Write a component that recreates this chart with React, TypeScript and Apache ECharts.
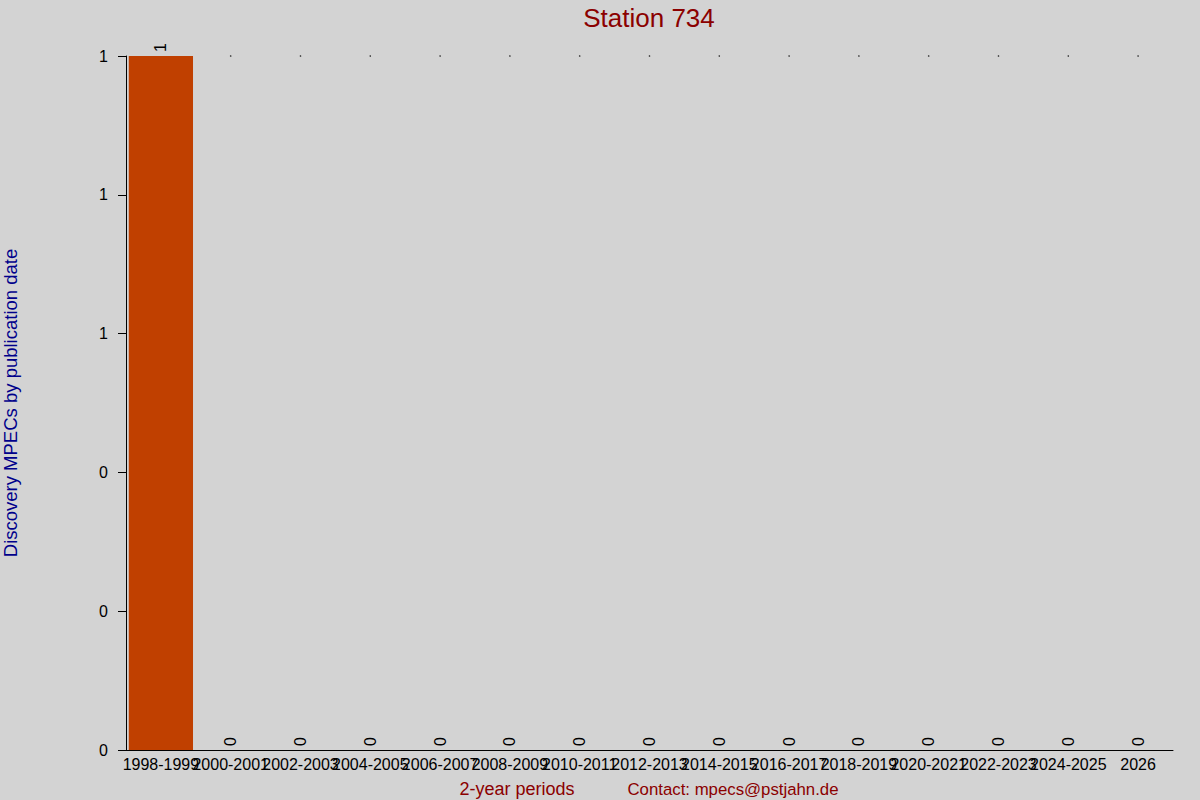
import React, { useEffect, useRef } from "react";
import * as echarts from "echarts";

const categories = [
  "1998-1999", "2000-2001", "2002-2003", "2004-2005", "2006-2007",
  "2008-2009", "2010-2011", "2012-2013", "2014-2015", "2016-2017",
  "2018-2019", "2020-2021", "2022-2023", "2024-2025", "2026",
];
const counts = [1, 0, 0, 0, 0, 0, 0, 0, 0, 0, 0, 0, 0, 0, 0];
const topDots = [null, 1, 1, 1, 1, 1, 1, 1, 1, 1, 1, 1, 1, 1, 1];

const FONT = "Liberation Sans, Arial, sans-serif";

export default function App() {
  const ref = useRef<HTMLDivElement>(null);
  useEffect(() => {
    if (!ref.current) return;
    const chart = echarts.init(ref.current, null, { renderer: "svg" });
    chart.setOption({
      animation: false,
      backgroundColor: "#d3d3d3",
      textStyle: { fontFamily: FONT },
      title: [
        {
          text: "Station 734",
          left: 644,
          top: 0,
          textAlign: "center",
          textStyle: { color: "#8b0000", fontSize: 26, fontWeight: "normal", fontFamily: FONT },
        },
        {
          text: "2-year periods",
          left: 512,
          top: 775,
          textAlign: "center",
          textStyle: { color: "#8b0000", fontSize: 18, fontWeight: "normal", fontFamily: FONT },
        },
        {
          text: "Contact: mpecs@pstjahn.de",
          left: 728,
          top: 776,
          textAlign: "center",
          textStyle: { color: "#8b0000", fontSize: 16.8, fontWeight: "normal", fontFamily: FONT },
        },
      ],
      grid: {
        left: 126,
        right: 27,
        top: 56,
        bottom: 50,
        containLabel: false,
        outerBoundsMode: "none",
      },
      xAxis: {
        type: "category",
        data: categories,
        axisLine: { show: true, lineStyle: { color: "#000", width: 1 } },
        axisTick: { show: false },
        axisLabel: { color: "#000", fontSize: 16, margin: 6, interval: 0, fontFamily: FONT, hideOverlap: false },
        splitLine: { show: false },
      },
      yAxis: {
        type: "value",
        min: 0,
        max: 1,
        interval: 0.2,
        name: "Discovery MPECs by publication date",
        nameLocation: "middle",
        nameGap: 106,
        nameTextStyle: { color: "#00008b", fontSize: 18.5, fontFamily: FONT },
        axisLine: { show: true, lineStyle: { color: "#000", width: 1 } },
        axisTick: { show: true, length: 8, lineStyle: { color: "#000" } },
        axisLabel: {
          color: "#000",
          fontSize: 16,
          margin: 18,
          fontFamily: FONT,
          formatter: (v: number) => String(Math.round(v)),
        },
        splitLine: { show: false },
      },
      series: [
        {
          type: "bar",
          data: counts,
          barWidth: "92%",
          itemStyle: { color: "#c04000" },
          label: {
            show: true,
            position: "top",
            rotate: 90,
            align: "left",
            verticalAlign: "middle",
            distance: 4,
            color: "#000",
            fontSize: 16,
            fontFamily: FONT,
          },
        },
        {
          type: "scatter",
          data: topDots,
          symbol: "circle",
          symbolSize: 1.5,
          itemStyle: { color: "#000" },
          silent: true,
        },
      ],
    });
    return () => chart.dispose();
  }, []);
  return (
    <div
      ref={ref}
      style={{ position: "fixed", left: 0, top: 0, width: 1200, height: 800 }}
    />
  );
}
